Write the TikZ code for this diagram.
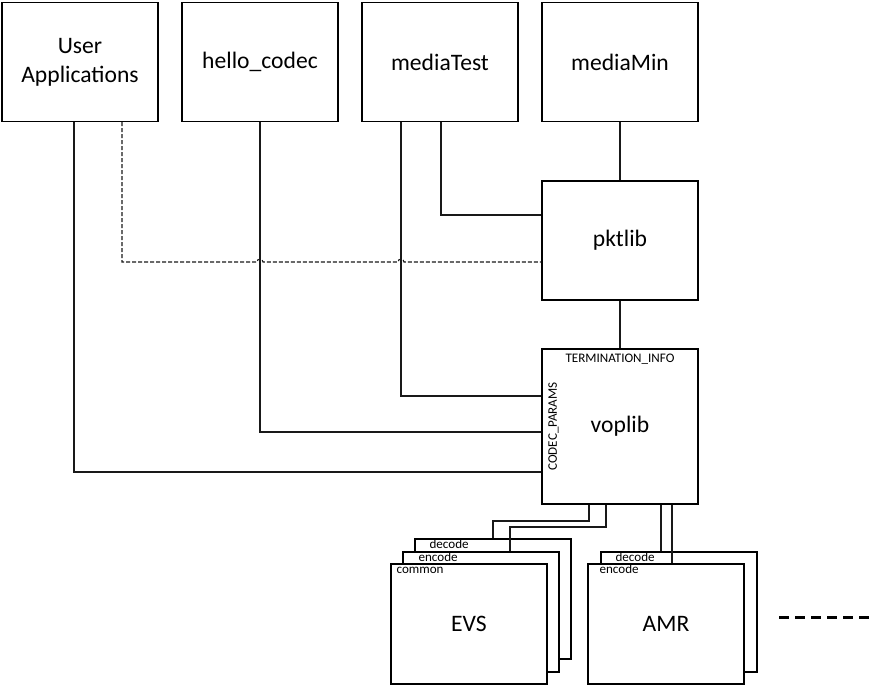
\documentclass[tikz,border=0pt]{standalone}
\usepackage{fontspec}
\setmainfont{Carlito}
\usetikzlibrary{positioning, calc}

\begin{document}
\begin{tikzpicture}[x=0.75pt, y=-0.75pt,
        box/.style={draw=black, line width=1pt, fill=white, minimum width=117pt, minimum height=89.25pt, align=center, inner sep=0pt, font=\fontsize{17.7}{21.75}\selectfont},
        layer/.style={box, minimum height=90pt},
        wire/.style={draw=black!90, line width=0.85pt},
        tag/.style={inner sep=0pt, font=\fontsize{9.8}{11}\selectfont}]
        \useasboundingbox (0,0) rectangle (872,685);

        % 1. Top row of programs
        \foreach \name/\txt [count=\i from 0] in {userapp/{User\\Applications}, hello/{hello\_codec}, mediatest/mediaTest, mediamin/mediaMin} {
            \node[box] (\name) at (80+\i*180, 62) {\txt};
        }

        % 2. Libraries
        \node[box] (pktlib) at (620, 240.5) {pktlib};
        \node[box, minimum height=116.25pt] (voplib) at (620, 426.5) {voplib};
        \node[tag, anchor=base] (terminfo) at ([shift={(0,14)}]voplib.north) {TERMINATION\_INFO};
        \node[tag, rotate=90, anchor=base] (codecparams) at ([shift={(15.5,0)}]voplib.west) {CODEC\_PARAMS};

        % 3. Codec stacks (back to front)
        \foreach \name/\cx/\cy/\txt/\dx in {evsdec/493/599/decode/15, evsenc/481/612/encode/16, evscom/469/624/common/6, amrdec/679/612/decode/15, amrenc/666/624/encode/12} {
            \node[layer] (\name) at (\cx, \cy) {};
            \node[tag, anchor=base west] (\name-tag) at ([shift={(\dx,10)}]\name.north west) {\txt};
        }
        \node[font=\fontsize{17.7}{21.75}\selectfont] (evs) at (evscom.center) {EVS};
        \node[font=\fontsize{17.7}{21.75}\selectfont] (amr) at (amrenc.center) {AMR};

        % 4. Connections
        \draw[wire] (mediamin.south) -- (pktlib.north);
        \draw[wire] (pktlib.south) -- (voplib.north);
        \draw[wire] (mediatest.south -| 441,0) |- (pktlib.west |- 0,215);
        \draw[wire] (mediatest.south -| 401,0) |- (voplib.west |- 0,396);
        \draw[wire] (hello.south) |- (voplib.west |- 0,432);
        \draw[wire] (userapp.south -| 74,0) |- (voplib.west |- 0,472);
        % dashed link with hops over the crossing lines
        \draw[wire, dash pattern=on 3pt off 1.5pt] (userapp.south -| 122,0) |- (257,262)
            arc[start angle=180, end angle=360, radius=3] -- (398,262)
            arc[start angle=180, end angle=360, radius=3] -- (pktlib.west |- 0,262);

        % voplib down to the codecs
        \draw[wire] (voplib.south -| 589,0) |- (493,521) -- (evsdec.north -| 493,0);
        \draw[wire] (voplib.south -| 606,0) |- (510,527) -- (evsenc.north -| 510,0);
        \draw[wire] (voplib.south -| 661,0) -- (amrdec.north -| 661,0);
        \draw[wire] (voplib.south -| 672,0) -- (amrenc.north -| 672,0);

        % more codecs
        \coordinate (more-a) at (779, 617);
        \coordinate (more-b) at (869, 617);
        \draw[line width=2.25pt, dash pattern=on 7.5pt off 4.5pt] (more-a) -- (more-b);
\end{tikzpicture}
\end{document}
